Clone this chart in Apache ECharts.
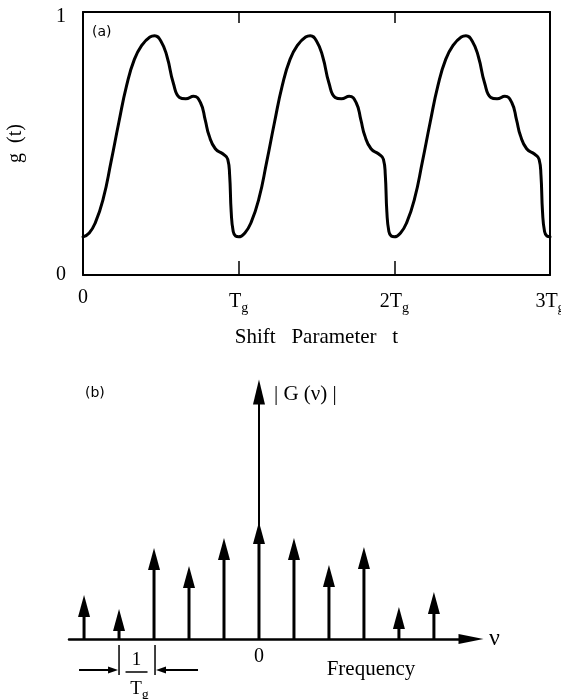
<!DOCTYPE html>
<html><head><meta charset="utf-8">
<script src="https://cdn.jsdelivr.net/npm/echarts@6/dist/echarts.min.js"></script>
<style>html,body{margin:0;padding:0;background:#fff}#c{width:561px;height:699px}</style>
</head><body><div id="c"></div>
<script>
// ---- Panel (a): g(t), t in units of Tg ----
const shiftT = [
  0, 0.04, 0.08, 0.13, 0.18, 0.23, 0.28, 0.33, 0.38, 0.43, 0.46, 0.50, 0.54, 0.58, 0.62, 0.66, 0.71, 0.755, 0.785, 0.81, 0.85, 0.90, 0.93, 0.942, 0.952, 0.965, 0.98,
  1.00, 1.04, 1.08, 1.13, 1.18, 1.23, 1.28, 1.33, 1.38, 1.43, 1.46, 1.50, 1.54, 1.58, 1.62, 1.66, 1.71, 1.755, 1.785, 1.81, 1.85, 1.90, 1.93, 1.942, 1.952, 1.965, 1.98,
  2.00, 2.04, 2.08, 2.13, 2.18, 2.23, 2.28, 2.33, 2.38, 2.43, 2.46, 2.50, 2.54, 2.58, 2.62, 2.66, 2.71, 2.755, 2.785, 2.81, 2.85, 2.90, 2.93, 2.942, 2.952, 2.965, 2.98, 3.00
];
const gValues = [
  0.145, 0.16, 0.20, 0.29, 0.43, 0.58, 0.72, 0.82, 0.875, 0.905, 0.91, 0.89, 0.83, 0.73, 0.675, 0.67, 0.68, 0.655, 0.59, 0.53, 0.48, 0.46, 0.44, 0.38, 0.24, 0.165, 0.148,
  0.145, 0.16, 0.20, 0.29, 0.43, 0.58, 0.72, 0.82, 0.875, 0.905, 0.91, 0.89, 0.83, 0.73, 0.675, 0.67, 0.68, 0.655, 0.59, 0.53, 0.48, 0.46, 0.44, 0.38, 0.24, 0.165, 0.148,
  0.145, 0.16, 0.20, 0.29, 0.43, 0.58, 0.72, 0.82, 0.875, 0.905, 0.91, 0.89, 0.83, 0.73, 0.675, 0.67, 0.68, 0.655, 0.59, 0.53, 0.48, 0.46, 0.44, 0.38, 0.24, 0.165, 0.148, 0.145
];
const xTickLabels = ['0', 'T_g', '2T_g', '3T_g'];
const yTickLabels = ['0', '1'];

// ---- Panel (b): |G(nu)| spectral lines, harmonic index n (units of 1/Tg) ----
const harmonics = [-5, -4, -3, -2, -1, 0, 1, 2, 3, 4, 5];
const amplitudes = [0.178, 0.121, 0.368, 0.296, 0.409, 0.474, 0.409, 0.30, 0.372, 0.13, 0.19];

const SERIF = 'Liberation Serif';
const SANS = 'DejaVu Sans';
const chart = echarts.init(document.getElementById('c'), null, {renderer: 'canvas'});

function tickFmt(v) {
  const s = xTickLabels[Math.round(v)];
  if (s === undefined) return '';
  if (s.indexOf('T_g') < 0) return s;
  return s.replace('T_g', '{t|T}{s|g}');
}
const tickRich = {
  t: {fontSize: 20, fontFamily: SERIF, color: '#000'},
  s: {fontSize: 14, fontFamily: SERIF, color: '#000', padding: [13, 0, 0, 0]}
};
function yFmt(v) {
  const s = yTickLabels[Math.round(v)];
  return Math.round(v) === 1 ? '{top|' + s + '}' : s;
}

const curve = shiftT.map((t, i) => [t, gValues[i]]);
const spikes = harmonics.map((n, i) => [n, amplitudes[i]]);

const axisBlack = {color: '#000', width: 2};

const option = {
  animation: false,
  backgroundColor: '#fff',
  textStyle: {fontFamily: SERIF, color: '#000'},
  grid: [
    {left: 83, right: 11, top: 12, bottom: 424, outerBoundsMode: 'none', containLabel: false},
    {left: 69, width: 402, top: 392, bottom: 60, outerBoundsMode: 'none', containLabel: false}
  ],
  xAxis: [
    {gridIndex: 0, type: 'value', min: 0, max: 3, interval: 1, position: 'bottom',
     axisLine: {onZero: false, lineStyle: axisBlack},
     axisTick: {inside: true, length: 14, lineStyle: {color: '#000', width: 1.5}},
     splitLine: {show: false},
     axisLabel: {margin: 13, fontSize: 20, fontFamily: SERIF, color: '#000', formatter: tickFmt, rich: tickRich},
     name: 'Shift   Parameter   t', nameLocation: 'middle', nameGap: 52,
     nameTextStyle: {fontSize: 21, fontFamily: SERIF, color: '#000'}},
    {gridIndex: 0, type: 'value', min: 0, max: 3, interval: 1, position: 'top',
     axisLine: {onZero: false, lineStyle: axisBlack},
     axisTick: {inside: true, length: 11, lineStyle: {color: '#000', width: 1.5}},
     splitLine: {show: false}, axisLabel: {show: false}},
    {gridIndex: 1, type: 'value', min: -5.43, max: 6.06,
     axisLine: {onZero: true, symbol: ['none', 'triangle'], symbolSize: [10, 25], lineStyle: {color: '#000', width: 2.5}},
     axisTick: {show: false}, splitLine: {show: false},
     axisLabel: {customValues: [0], margin: 8, fontSize: 20, fontFamily: SERIF, color: '#000', formatter: v => String(v)},
     name: 'ν', nameLocation: 'end', nameGap: 18,
     nameTextStyle: {fontSize: 24, fontFamily: SERIF, color: '#000', verticalAlign: 'middle'}}
  ],
  yAxis: [
    {gridIndex: 0, type: 'value', min: 0, max: 1, interval: 1, position: 'left',
     axisLine: {show: true, onZero: false, lineStyle: axisBlack},
     axisTick: {show: false}, splitLine: {show: false},
     axisLabel: {margin: 17, fontSize: 20, fontFamily: SERIF, color: '#000', formatter: yFmt,
       rich: {top: {fontSize: 20, fontFamily: SERIF, color: '#000', padding: [10, 0, 0, 0]}}},
     name: 'g  (t)', nameLocation: 'middle', nameGap: 57,
     nameTextStyle: {fontSize: 20, fontFamily: SERIF, color: '#000'}},
    {gridIndex: 0, type: 'value', min: 0, max: 1, interval: 1, position: 'right',
     axisLine: {show: true, onZero: false, lineStyle: axisBlack},
     axisTick: {show: false}, splitLine: {show: false}, axisLabel: {show: false}},
    {gridIndex: 1, type: 'value', min: 0, max: 1,
     axisLine: {show: true, onZero: true, symbol: ['none', 'triangle'], symbolSize: [12, 25], lineStyle: {color: '#000', width: 2}},
     axisTick: {show: false}, splitLine: {show: false}, axisLabel: {show: false}}
  ],
  series: [
    {type: 'line', xAxisIndex: 0, yAxisIndex: 0, data: curve, showSymbol: false,
     smooth: 0.5, lineStyle: {color: '#000', width: 3, join: 'round', cap: 'round'}, silent: true},
    {type: 'custom', xAxisIndex: 2, yAxisIndex: 2, data: spikes, clip: false, silent: true,
     renderItem: function (params, api) {
       const n = api.value(0), v = api.value(1);
       const base = api.coord([n, 0]);
       const tip = api.coord([n, v]);
       const headH = 22, headW = 12;
       return {type: 'group', children: [
         {type: 'line', shape: {x1: base[0], y1: base[1], x2: tip[0], y2: tip[1] + headH - 2},
          style: {stroke: '#000', lineWidth: 3}},
         {type: 'polygon', shape: {points: [[tip[0], tip[1]], [tip[0] - headW / 2, tip[1] + headH], [tip[0] + headW / 2, tip[1] + headH]]},
          style: {fill: '#000'}}
       ]};
     }}
  ],
  graphic: [
    {type: 'text', style: {x: 92, y: 32, text: '(a)', fontSize: 14, fontFamily: SANS, fill: '#000', verticalAlign: 'middle'}},
    {type: 'text', style: {x: 85, y: 393, text: '(b)', fontSize: 14, fontFamily: SANS, fill: '#000', verticalAlign: 'middle'}},
    {type: 'text', style: {x: 274, y: 394, text: '| G (ν) |', fontSize: 21, fontFamily: SERIF, fill: '#000', verticalAlign: 'middle'}},
    {type: 'text', style: {x: 371, y: 669, text: 'Frequency', fontSize: 21, fontFamily: SERIF, fill: '#000', align: 'center', verticalAlign: 'middle'}}
  ]
};
chart.setOption(option);

// 1/Tg spacing annotation between harmonics -4 and -3
const pA = chart.convertToPixel({xAxisIndex: 2, yAxisIndex: 2}, [harmonics[1], 0]);
const pB = chart.convertToPixel({xAxisIndex: 2, yAxisIndex: 2}, [harmonics[2], 0]);
const by = pA[1];
const ay = by + 31;
const mid = (pA[0] + pB[0]) / 2;
const extra = [
  {type: 'line', shape: {x1: pA[0], y1: by + 6, x2: pA[0], y2: by + 36}, style: {stroke: '#000', lineWidth: 1.5}},
  {type: 'line', shape: {x1: pB[0] + 1, y1: by + 6, x2: pB[0] + 1, y2: by + 36}, style: {stroke: '#000', lineWidth: 1.5}},
  {type: 'line', shape: {x1: pA[0] - 40, y1: ay, x2: pA[0] - 8, y2: ay}, style: {stroke: '#000', lineWidth: 2}},
  {type: 'polygon', shape: {points: [[pA[0] - 1, ay], [pA[0] - 11, ay - 3.5], [pA[0] - 11, ay + 3.5]]}, style: {fill: '#000'}},
  {type: 'line', shape: {x1: pB[0] + 44, y1: ay, x2: pB[0] + 10, y2: ay}, style: {stroke: '#000', lineWidth: 2}},
  {type: 'polygon', shape: {points: [[pB[0] + 2, ay], [pB[0] + 12, ay - 3.5], [pB[0] + 12, ay + 3.5]]}, style: {fill: '#000'}},
  {type: 'text', style: {x: mid, y: by + 21, text: '1', fontSize: 19, fontFamily: SERIF, fill: '#000', align: 'center', verticalAlign: 'middle'}},
  {type: 'line', shape: {x1: mid - 11, y1: by + 33, x2: mid + 11, y2: by + 33}, style: {stroke: '#000', lineWidth: 1.5}},
  {type: 'text', style: {x: mid + 3, y: by + 50, text: '{t|T}{s|g}', align: 'center', verticalAlign: 'middle',
    rich: {t: {fontSize: 19, fontFamily: SERIF, fill: '#000'}, s: {fontSize: 14, fontFamily: SERIF, fill: '#000', padding: [13, 0, 0, 0]}}}}
];
chart.setOption({graphic: option.graphic.concat(extra)});
</script>
</body></html>
